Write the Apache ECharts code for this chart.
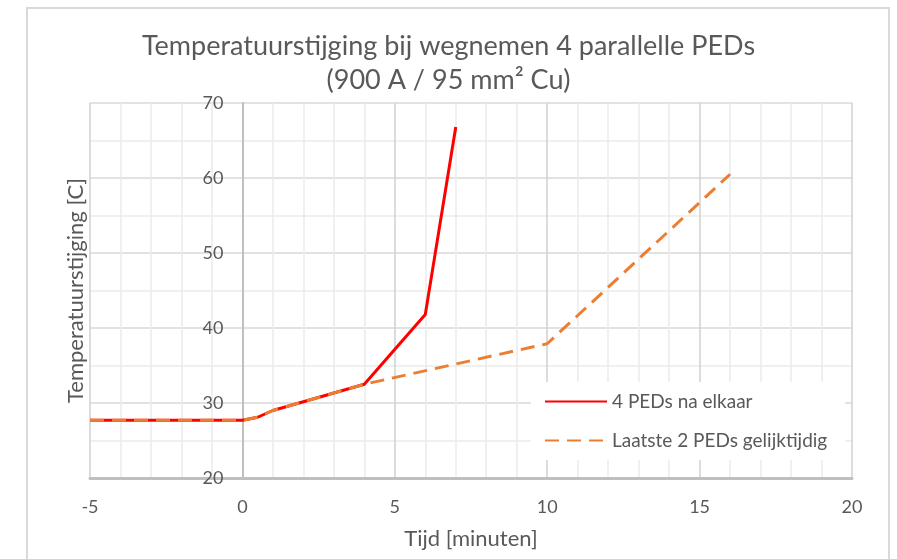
<!DOCTYPE html>
<html lang="nl">
<head>
    <meta charset="UTF-8">
    <title>Temperatuurstijging</title>
    <style>
        html, body { margin: 0; padding: 0; background: #fff; }
        #chart { width: 897px; height: 559px; }
    </style>
</head>
<body>
    <div id="chart"></div>
    <script src="https://cdn.jsdelivr.net/npm/echarts@6/dist/echarts.min.js"></script>
    <script>
        // tijd [minuten] en temperatuur [C]
        const tijdNaElkaar = [-5, 0, 0.5, 1, 4, 6, 7];
        const tempNaElkaar = [27.7, 27.7, 28.1, 29.0, 32.5, 41.8, 66.8];
        const tijdGelijk = [-5, 0, 0.5, 1, 4, 10, 16];
        const tempGelijk = [27.7, 27.7, 28.1, 29.0, 32.5, 37.9, 60.5];
        const serieNamen = ['4 PEDs na elkaar', 'Laatste 2 PEDs gelijktijdig'];

        const grijs = '#595959';
        const font = 'Lato, "Open Sans", sans-serif';
        const plotBreedte = 897 - 90 - 45;

        const zip = (xs, ys) => xs.map((x, i) => [x, ys[i]]);

        let chart = echarts.init(document.getElementById('chart'));
        chart.setOption({
            animation: false,
            textStyle: { fontFamily: font },
            title: {
                text: 'Temperatuurstijging bij wegnemen 4 parallelle PEDs\n(900 A / 95 mm² Cu)',
                left: 'center',
                top: 24,
                padding: [5, 0, 5, 20],
                textStyle: { color: grijs, fontSize: 27, fontWeight: 'normal', lineHeight: 34, fontFamily: font }
            },
            graphic: [{
                type: 'rect',
                shape: { x: 27, y: 8, width: 862, height: 600 },
                style: { fill: 'none', stroke: '#d9d9d9', lineWidth: 2 },
                silent: true
            }],
            legend: {
                orient: 'vertical',
                left: 531,
                top: 382,
                itemWidth: 62,
                itemHeight: 14,
                itemGap: 20,
                padding: [10, 18, 10, 13],
                backgroundColor: '#fff',
                itemStyle: { opacity: 0 },
                textStyle: { color: grijs, fontSize: 19, fontFamily: font },
                data: serieNamen
            },
            grid: { left: 90, right: 45, top: 103, bottom: 81, outerBoundsMode: 'none' },
            xAxis: {
                type: 'value',
                min: -5, max: 20, interval: 5,
                name: 'Tijd [minuten]',
                nameLocation: 'middle',
                nameGap: 50,
                nameTextStyle: { color: grijs, fontSize: 22, fontFamily: font },
                axisLine: { onZero: false, lineStyle: { color: '#bfbfbf', width: 3 } },
                axisTick: { show: false },
                axisLabel: { color: grijs, fontSize: 18, margin: 20, fontFamily: font },
                splitLine: { lineStyle: { color: '#d0d0d0', width: 1.5 } },
                minorTick: { show: false, splitNumber: 5 },
                minorSplitLine: { show: true, lineStyle: { color: '#ececec', width: 1.5 } }
            },
            yAxis: {
                type: 'value',
                min: 20, max: 70, interval: 10,
                name: 'Temperatuurstijging [C]',
                nameLocation: 'middle',
                nameGap: 155,
                nameTextStyle: { color: grijs, fontSize: 22, fontFamily: font },
                // as staat bij tijd = 0
                offset: -plotBreedte / 5,
                axisLine: { show: true, onZero: false, lineStyle: { color: '#bfbfbf', width: 2 } },
                axisTick: { show: false },
                axisLabel: { color: grijs, fontSize: 18, margin: 19, fontFamily: font },
                splitLine: { lineStyle: { color: '#d9d9d9', width: 1.5 } },
                minorTick: { show: false, splitNumber: 2 },
                minorSplitLine: { show: true, lineStyle: { color: '#ececec', width: 1.5 } }
            },
            series: [
                {
                    name: serieNamen[0],
                    type: 'line',
                    data: zip(tijdNaElkaar, tempNaElkaar),
                    symbol: 'none',
                    color: '#ff0000',
                    lineStyle: { color: '#ff0000', width: 3 }
                },
                {
                    name: serieNamen[1],
                    type: 'line',
                    data: zip(tijdGelijk, tempGelijk),
                    symbol: 'none',
                    color: '#ed7d31',
                    lineStyle: { color: '#ed7d31', width: 3, type: [14, 8] }
                }
            ]
        });
    </script>
</body>
</html>
